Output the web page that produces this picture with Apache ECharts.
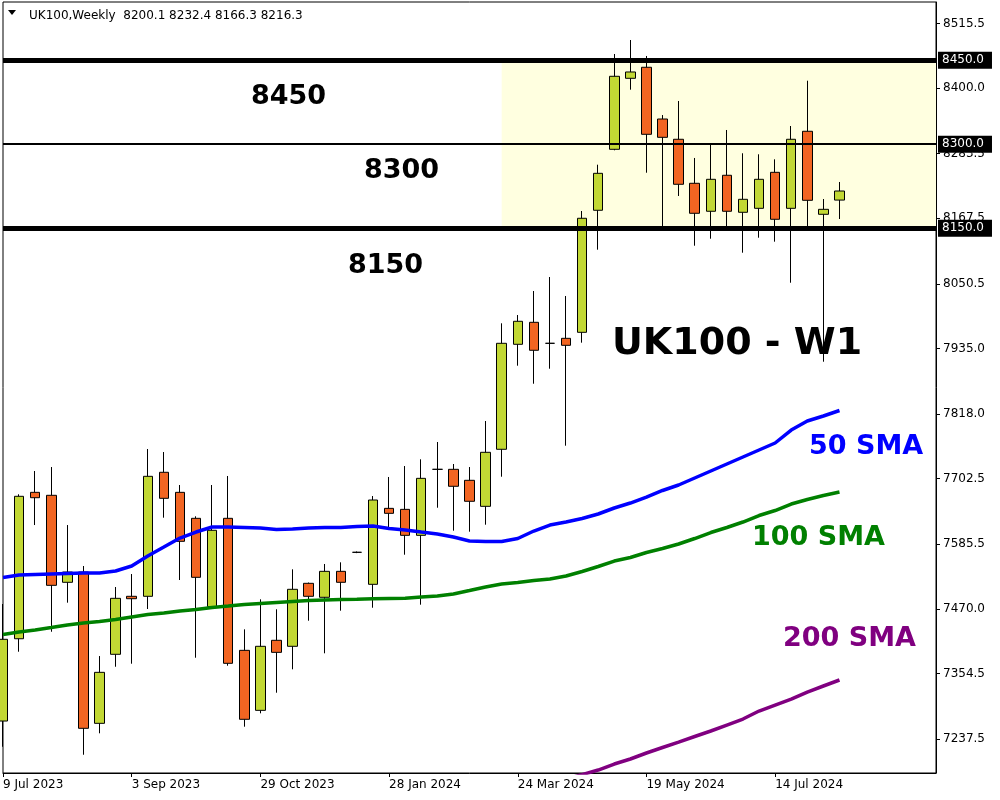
<!DOCTYPE html>
<html>
<head>
<meta charset="utf-8">
<title>UK100 - W1</title>
<script src="https://cdn.jsdelivr.net/npm/echarts@6/dist/echarts.min.js"></script>
<style>
  html, body { margin: 0; padding: 0; background: #fff; }
  #chart { width: 1000px; height: 800px; }
</style>
</head>
<body>
<div id="chart"></div>
<script>
// weekly bars (last 6 slots are empty space on the right)
const dates = [
  '9 Jul 2023', '16 Jul 2023', '23 Jul 2023', '30 Jul 2023', '6 Aug 2023', '13 Aug 2023', '20 Aug 2023', '27 Aug 2023',
  '3 Sep 2023', '10 Sep 2023', '17 Sep 2023', '24 Sep 2023', '1 Oct 2023', '8 Oct 2023', '15 Oct 2023', '22 Oct 2023',
  '29 Oct 2023', '5 Nov 2023', '12 Nov 2023', '19 Nov 2023', '26 Nov 2023', '3 Dec 2023', '10 Dec 2023', '17 Dec 2023',
  '28 Jan 2024', '4 Feb 2024', '11 Feb 2024', '18 Feb 2024', '25 Feb 2024', '3 Mar 2024', '10 Mar 2024', '17 Mar 2024',
  '24 Mar 2024', '31 Mar 2024', '7 Apr 2024', '14 Apr 2024', '21 Apr 2024', '28 Apr 2024', '5 May 2024', '12 May 2024',
  '19 May 2024', '26 May 2024', '2 Jun 2024', '9 Jun 2024', '16 Jun 2024', '23 Jun 2024', '30 Jun 2024', '7 Jul 2024',
  '14 Jul 2024', '21 Jul 2024', '28 Jul 2024', '4 Aug 2024', '11 Aug 2024',
  '18 Aug 2024', '25 Aug 2024', '1 Sep 2024', '8 Sep 2024', '15 Sep 2024', '22 Sep 2024'
];
const barCount = 53;

// [open, close, low, high]
const ohlc = [
  [7269.6, 7415.6, 7223.7, 7478.6],
  [7416.6, 7671.0, 7393.4, 7674.6],
  [7678.1, 7668.5, 7619.7, 7716.2],
  [7672.8, 7512.0, 7429.1, 7723.3],
  [7517.4, 7535.8, 7481.0, 7619.7],
  [7535.8, 7256.6, 7209.4, 7546.5],
  [7265.5, 7356.6, 7247.7, 7385.7],
  [7388.8, 7488.8, 7366.6, 7509.0],
  [7492.4, 7488.1, 7372.0, 7532.2],
  [7492.4, 7706.7, 7469.7, 7755.5],
  [7713.9, 7667.4, 7632.8, 7750.1],
  [7678.1, 7590.6, 7521.5, 7691.2],
  [7631.7, 7526.3, 7382.7, 7635.3],
  [7473.8, 7610.3, 7469.7, 7691.2],
  [7631.7, 7372.7, 7368.4, 7707.3],
  [7395.9, 7272.7, 7259.5, 7433.4],
  [7288.7, 7403.1, 7283.4, 7487.0],
  [7413.8, 7392.3, 7320.2, 7469.2],
  [7403.1, 7504.9, 7362.0, 7540.6],
  [7515.6, 7492.4, 7448.8, 7517.0],
  [7490.6, 7537.0, 7390.6, 7550.1],
  [7537.0, 7517.4, 7466.7, 7553.1],
  [7571.0, 7571.0, 7569.5, 7572.5],
  [7513.8, 7664.4, 7472.0, 7671.5],
  [7649.5, 7640.6, 7614.9, 7705.5],
  [7647.7, 7601.3, 7566.7, 7725.1],
  [7601.3, 7703.1, 7477.4, 7737.1],
  [7719.2, 7719.2, 7650.6, 7768.0],
  [7719.2, 7688.9, 7609.6, 7728.7],
  [7699.6, 7662.1, 7607.8, 7723.3],
  [7653.1, 7749.6, 7620.3, 7805.5],
  [7755.0, 7944.3, 7706.0, 7980.0],
  [7942.5, 7983.6, 7904.3, 7994.8],
  [7981.8, 7931.8, 7872.1, 8037.7],
  [7944.3, 7944.3, 7898.9, 8062.7],
  [7953.2, 7940.7, 7761.4, 8028.8],
  [7963.9, 8167.6, 7945.4, 8180.6],
  [8181.9, 8247.9, 8111.5, 8263.3],
  [8290.8, 8421.2, 8289.0, 8461.0],
  [8417.6, 8428.9, 8397.3, 8486.0],
  [8437.3, 8317.6, 8249.0, 8457.5],
  [8344.9, 8312.2, 8153.8, 8352.0],
  [8308.7, 8228.3, 8207.4, 8377.1],
  [8230.1, 8176.5, 8118.6, 8275.3],
  [8180.1, 8237.2, 8131.1, 8300.3],
  [8244.4, 8180.1, 8153.8, 8325.3],
  [8178.3, 8201.5, 8106.1, 8283.7],
  [8185.4, 8237.2, 8132.9, 8281.9],
  [8249.7, 8165.8, 8125.8, 8272.9],
  [8185.4, 8308.7, 8052.5, 8332.4],
  [8323.0, 8199.7, 8153.8, 8413.3],
  [8174.7, 8183.6, 7911.4, 8202.0],
  [8200.1, 8216.3, 8166.3, 8232.4]
];

const sma50 = [
  7526.0, 7530.4, 7531.3, 7532.2, 7533.1, 7534.0, 7534.0, 7537.6, 7546.5, 7564.4,
  7580.4, 7596.5, 7607.2, 7616.2, 7616.2, 7615.3, 7614.4, 7611.7, 7612.6, 7614.4,
  7615.3, 7615.3, 7617.1, 7617.9, 7613.5, 7610.8, 7607.2, 7603.7, 7598.3, 7591.2,
  7590.3, 7590.3, 7595.6, 7609.0, 7619.7, 7625.1, 7631.3, 7639.4, 7650.1, 7659.0,
  7669.7, 7681.4, 7691.2, 7703.7, 7716.2, 7728.7, 7741.2, 7753.7, 7766.2, 7789.4,
  7805.5, 7814.4, 7824.3
];

const sma100 = [
  7424.1, 7428.6, 7432.2, 7436.6, 7441.1, 7444.7, 7447.4, 7450.9, 7455.4, 7459.9,
  7462.5, 7466.1, 7468.8, 7472.4, 7475.0, 7477.7, 7479.5, 7481.3, 7483.1, 7484.9,
  7485.8, 7486.7, 7487.0, 7487.9, 7488.4, 7488.8, 7491.1, 7492.9, 7496.5, 7502.7,
  7509.0, 7514.3, 7517.0, 7520.6, 7523.3, 7528.6, 7536.7, 7545.6, 7555.4, 7561.7,
  7570.6, 7577.8, 7585.8, 7595.6, 7606.3, 7615.3, 7625.1, 7636.7, 7645.6, 7657.2,
  7665.3, 7672.4, 7678.7
];

// 200 SMA is below the visible range before bar 35
const sma200 = [
  null, null, null, null, null, null, null, null, null, null,
  null, null, null, null, null, null, null, null, null, null,
  null, null, null, null, null, null, null, null, null, null,
  null, null, null, null, null, 7166.0, 7174.0, 7182.1, 7192.8, 7201.8,
  7212.5, 7222.3, 7232.1, 7242.0, 7251.8, 7262.5, 7273.2, 7287.5, 7298.2, 7308.9,
  7321.4, 7332.2, 7342.9
];

const priceTicks = [7237.5, 7354.5, 7470.0, 7585.5, 7702.5, 7818.0, 7935.0, 8050.5, 8167.5, 8283.5, 8400.0, 8515.5];
const priceMin = 7176.8;
const priceMax = 8553.9;

const zoneTop = 8450.0;
const zoneMid = 8300.0;
const zoneBottom = 8150.0;
const lastPrice = 8216.3;
const zoneStartIndex = 31;

const headerText = 'UK100,Weekly  8200.1 8232.4 8166.3 8216.3';

const font = 'DejaVu Sans';

const chart = echarts.init(document.getElementById('chart'));

const showDate = (i) => i % 8 === 0 && i < barCount;

const tagLabel = {
  show: true,
  position: 'end',
  distance: 2,
  color: '#fff',
  backgroundColor: '#000',
  padding: [3, 8, 2, 4],
  lineHeight: 12,
  fontFamily: font,
  fontSize: 12,
  formatter: (p) => p.value.toFixed(1)
};

// annotation text, x = left edge, y = vertical centre
const bigText = (x, y, text, color, size) => ({
  type: 'text',
  x: x,
  y: y,
  z: 100,
  style: {
    text: text,
    fill: color,
    font: 'bold ' + size + 'px "DejaVu Sans"',
    align: 'left',
    verticalAlign: 'middle'
  }
});

chart.setOption({
  animation: false,
  backgroundColor: '#fff',
  title: {
    text: headerText,
    left: 24,
    top: 5,
    textStyle: { fontFamily: font, fontSize: 12, fontWeight: 'normal', color: '#000' }
  },
  grid: {
    left: 3,
    right: 64,
    top: 2,
    bottom: 27,
    show: true,
    borderColor: '#000',
    borderWidth: 1
  },
  xAxis: {
    type: 'category',
    data: dates,
    boundaryGap: false,
    axisLine: { show: true, lineStyle: { color: '#000', width: 1 } },
    axisTick: {
      show: true,
      length: 4,
      interval: (i) => showDate(i),
      lineStyle: { color: '#000' }
    },
    axisLabel: {
      interval: (i) => showDate(i),
      formatter: (v, i) => (i < barCount ? v : ''),
      align: 'left',
      margin: 6,
      color: '#000',
      fontFamily: font,
      fontSize: 12
    },
    splitLine: { show: false }
  },
  yAxis: {
    type: 'value',
    position: 'right',
    min: priceMin,
    max: priceMax,
    scale: true,
    axisLine: { show: true, lineStyle: { color: '#000', width: 1 } },
    axisTick: { show: true, length: 4, customValues: priceTicks, lineStyle: { color: '#000' } },
    axisLabel: {
      customValues: priceTicks,
      formatter: (v) => v.toFixed(1),
      margin: 7,
      color: '#000',
      fontFamily: font,
      fontSize: 12
    },
    splitLine: { show: false }
  },
  series: [
    {
      // yellow zone between 8150 and 8450
      type: 'line',
      data: [],
      z: 1,
      silent: true,
      markArea: {
        silent: true,
        itemStyle: { color: '#FFFFE0' },
        data: [[
          { xAxis: zoneStartIndex, yAxis: zoneTop },
          { xAxis: dates.length - 1, yAxis: zoneBottom }
        ]]
      }
    },
    {
      type: 'candlestick',
      data: ohlc,
      z: 2,
      barWidth: 10,
      itemStyle: {
        color: '#C2D834',
        color0: '#F26522',
        borderColor: '#000',
        borderColor0: '#000',
        borderColorDoji: '#000',
        borderWidth: 1
      },
      markLine: {
        silent: true,
        symbol: ['none', 'none'],
        data: [
          { yAxis: zoneTop, lineStyle: { color: '#000', width: 5, type: 'solid' }, label: tagLabel },
          { yAxis: zoneMid, lineStyle: { color: '#000', width: 2, type: 'solid' }, label: tagLabel },
          { yAxis: zoneBottom, lineStyle: { color: '#000', width: 5, type: 'solid' }, label: tagLabel },
          { yAxis: lastPrice, lineStyle: { color: '#000', width: 1, opacity: 0 }, label: tagLabel }
        ]
      }
    },
    {
      name: '50 SMA',
      type: 'line',
      data: sma50,
      z: 3,
      showSymbol: false,
      lineStyle: { color: '#0000FF', width: 3.5 }
    },
    {
      name: '100 SMA',
      type: 'line',
      data: sma100,
      z: 3,
      showSymbol: false,
      lineStyle: { color: '#008000', width: 3.5 }
    },
    {
      name: '200 SMA',
      type: 'line',
      data: sma200,
      z: 3,
      showSymbol: false,
      lineStyle: { color: '#800080', width: 3.5 }
    }
  ],
  graphic: [
    { type: 'polygon', shape: { points: [[8, 10], [16, 10], [12, 15]] }, style: { fill: '#000' } },
    bigText(251, 97, '8450', '#000', 27),
    bigText(364, 171, '8300', '#000', 27),
    bigText(348, 266, '8150', '#000', 27),
    bigText(612, 344, 'UK100 - W1', '#000', 38),
    bigText(809, 447, '50 SMA', '#0000FF', 27),
    bigText(752, 538, '100 SMA', '#008000', 27),
    bigText(783, 639, '200 SMA', '#800080', 27)
  ]
});
</script>
</body>
</html>
